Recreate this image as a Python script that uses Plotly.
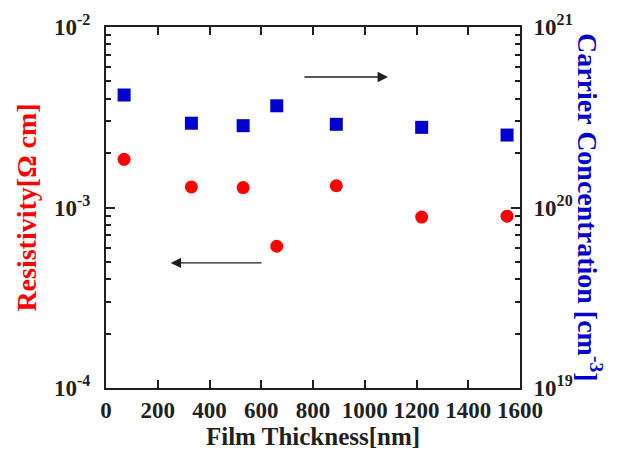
import plotly.graph_objects as go

thickness = [70, 330, 530, 660, 890, 1220, 1550]
resistivity = [1.85e-3, 1.30e-3, 1.29e-3, 6.1e-4, 1.32e-3, 8.85e-4, 8.95e-4]
carrier = [4.2e20, 2.93e20, 2.84e20, 3.66e20, 2.89e20, 2.78e20, 2.52e20]

x_ticks = [0, 200, 400, 600, 800, 1000, 1200, 1400, 1600]
left_tickvals = [1e-4, 1e-3, 1e-2]
left_ticktext = ["10<sup>-4</sup>", "10<sup>-3</sup>", "10<sup>-2</sup>"]
right_tickvals = [1e19, 1e20, 1e21]
right_ticktext = ["10<sup>19</sup>", "10<sup>20</sup>", "10<sup>21</sup>"]

FONT = "Liberation Serif"
DARK = "#231f20"

fig = go.Figure()
fig.add_trace(go.Scatter(x=thickness, y=resistivity, mode="markers",
                         marker=dict(symbol="circle", size=13, color="#ff0000"),
                         yaxis="y", showlegend=False))
fig.add_trace(go.Scatter(x=thickness, y=carrier, mode="markers",
                         marker=dict(symbol="square", size=13, color="#0000cc"),
                         yaxis="y2", showlegend=False))

axis_common = dict(showline=True, linecolor=DARK, linewidth=2, ticks="inside",
                   tickcolor=DARK, tickwidth=2, showgrid=False, zeroline=False,
                   tickfont=dict(family=FONT, size=23, color=DARK))

fig.update_layout(
    width=619, height=456,
    margin=dict(l=106, r=99, t=27, b=68),
    plot_bgcolor="white", paper_bgcolor="white",
    font=dict(family=FONT, color=DARK),
    xaxis=dict(range=[0, 1600], tickvals=x_ticks,
               ticktext=["<b>%d</b>" % v for v in x_ticks], ticklen=8, mirror="ticks",
               title=dict(text="<b>Film Thickness[nm]</b>", font=dict(family=FONT, size=25, color=DARK), standoff=4),
               **axis_common),
    yaxis=dict(type="log", range=[-4, -2], tickvals=left_tickvals,
               ticktext=["<b>" + t + "</b>" for t in left_ticktext], ticklen=9,
               ticklabelstandoff=9,
               minor=dict(ticks="inside", ticklen=5, tickcolor=DARK, tickwidth=2, dtick="D1", showgrid=False),
               **axis_common),
    yaxis2=dict(type="log", range=[19, 21], overlaying="y", side="right",
                tickvals=right_tickvals,
                ticktext=["<b>" + t + "</b>" for t in right_ticktext], ticklen=9,
                ticklabelstandoff=7,
                minor=dict(ticks="inside", ticklen=5, tickcolor=DARK, tickwidth=2, dtick="D1", showgrid=False),
                **axis_common),
)

# Axis titles
fig.add_annotation(text="<b>Resistivity[Ω cm]</b>", xref="paper", yref="paper",
                   x=-0.193, xanchor="center", y=0.5, textangle=-90, showarrow=False,
                   font=dict(family=FONT, size=28, color="#ff0000"))
fig.add_annotation(text="<b>Carrier Concentration [cm<sup>-3</sup>]</b>", xref="paper", yref="paper",
                   x=1.168, xanchor="center", y=0.5, textangle=90, showarrow=False,
                   font=dict(family=FONT, size=28, color="#0000cc"))

# Arrows
fig.add_annotation(x=250, y=-3.307, ax=607, ay=-3.307, xref="x", yref="y", axref="x", ayref="y",
                   text="", showarrow=True, arrowhead=2, arrowsize=1.6, arrowwidth=1.3, arrowcolor=DARK)
fig.add_annotation(x=1090, y=20.723, ax=761, ay=20.723, xref="x", yref="y2", axref="x", ayref="y2",
                   text="", showarrow=True, arrowhead=2, arrowsize=1.6, arrowwidth=1.3, arrowcolor=DARK)

fig.write_html("out.html")
